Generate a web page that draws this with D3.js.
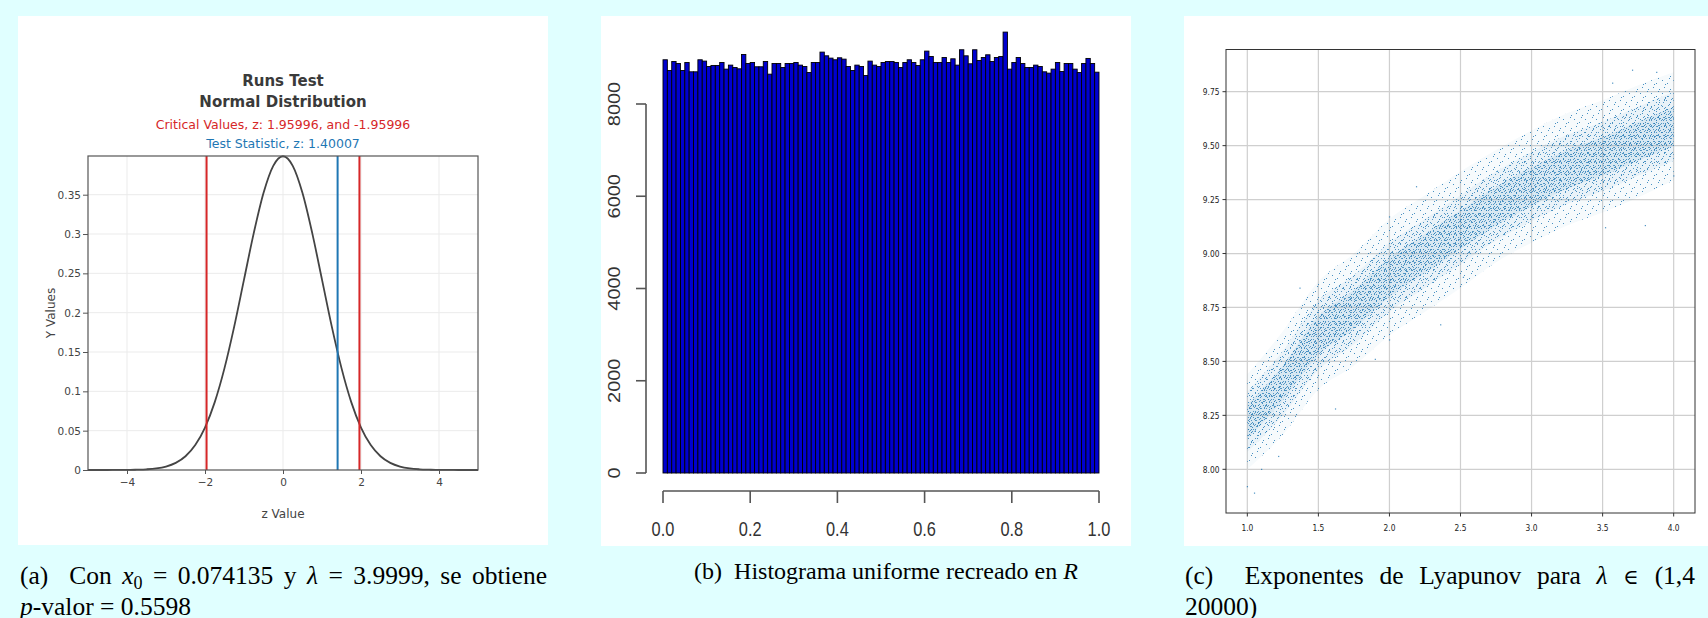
<!DOCTYPE html>
<html><head><meta charset="utf-8">
<script src="https://cdn.jsdelivr.net/npm/d3@7"></script>
<style>
body{margin:0;background:#e0ffff;width:1708px;height:618px;overflow:hidden;position:relative}
.cap{position:absolute;font-family:"Liberation Serif","Times New Roman",serif;font-size:25.5px;line-height:31px;color:#000;white-space:nowrap}
.just{text-align:justify;text-align-last:justify;white-space:normal}
.sub{font-size:18px;position:relative;top:5px;line-height:0}
.elem{font-family:"DejaVu Serif",serif;font-size:21px}
</style></head><body>
<svg id="chart" width="1708" height="618" style="position:absolute;left:0;top:0"></svg>
<div class="cap just" style="left:20px;top:560px;width:527px">(a)&nbsp; Con <i>x</i><span class="sub">0</span> = 0.074135 y <i>λ</i> = 3.9999, se obtiene</div>
<div class="cap" style="left:20px;top:591px"><i>p</i>-valor = 0.5598</div>
<div class="cap" style="left:886px;top:556px;font-size:24px;transform:translateX(-50%)">(b)&nbsp; Histograma uniforme recreado en <i>R</i></div>
<div class="cap just" style="left:1185px;top:560px;width:510px">(c)&nbsp; Exponentes de Lyapunov para <i>λ</i> <span class="elem">∈</span> (1,4</div>
<div class="cap" style="left:1185px;top:591px">20000)</div>
<script>
// ---------- Panel (a) data ----------
const zValues = [-5,-4.75,-4.5,-4.25,-4,-3.75,-3.5,-3.25,-3,-2.75,-2.5,-2.25,-2,-1.75,-1.5,-1.25,-1,-0.75,-0.5,-0.25,0,
  0.25,0.5,0.75,1,1.25,1.5,1.75,2,2.25,2.5,2.75,3,3.25,3.5,3.75,4,4.25,4.5,4.75,5];
const densityValues = [0.0000,0.0000,0.0000,0.0001,0.0001,0.0004,0.0009,0.0020,0.0044,0.0091,0.0175,0.0317,0.0540,0.0863,0.1295,0.1826,0.2420,0.3011,0.3521,0.3867,0.3989,
  0.3867,0.3521,0.3011,0.2420,0.1826,0.1295,0.0863,0.0540,0.0317,0.0175,0.0091,0.0044,0.0020,0.0009,0.0004,0.0001,0.0001,0.0000,0.0000,0.0000];
const criticalValues = [-1.95996, 1.95996];
const testStatistic = 1.40007;
const aXTicks = [-4,-2,0,2,4];
const aXTickLabels = ["\u22124","\u22122","0","2","4"];
const aYTicks = [0,0.05,0.1,0.15,0.2,0.25,0.3,0.35];
const aYTickLabels = ["0","0.05","0.1","0.15","0.2","0.25","0.3","0.35"];

// ---------- Panel (b) data ----------
const histCounts = [8959,8727,8922,8879,8727,8900,8698,8698,8959,8930,
  8814,8836,8836,8900,8756,8843,8792,8763,9074,8879,
  8900,8807,8807,8922,8647,8879,8879,8792,8879,8879,
  8900,8843,8814,8684,8900,8900,9125,9045,8995,8959,
  9002,8973,8814,8727,8843,8814,8618,8930,8843,8814,
  8900,8922,8922,8900,8792,8900,8959,8900,8836,8959,
  9147,9031,8900,8900,9009,8900,8980,8843,9176,9045,
  8872,9176,8944,9009,9067,8922,9009,9031,9559,8756,
  8900,9009,8879,8792,8792,8843,8814,8698,8669,8756,
  8900,8705,8879,8879,8756,8684,8879,8988,8879,8690];
const bXTicks = [0,0.2,0.4,0.6,0.8,1.0];
const bXTickLabels = ["0.0","0.2","0.4","0.6","0.8","1.0"];
const bYTicks = [0,2000,4000,6000,8000];
const bYTickLabels = ["0","2000","4000","6000","8000"];

// ---------- Panel (c) data (band) ----------
const lambdaX   = [1.0,1.25,1.5,1.75,2.0,2.25,2.5,2.75,3.0,3.25,3.5,3.75,4.0];
const lyapCenter= [8.22,8.40,8.62,8.74,8.89,9.00,9.11,9.22,9.31,9.39,9.45,9.52,9.59];
const lyapInner = [0.08,0.08,0.09,0.09,0.09,0.09,0.09,0.09,0.09,0.09,0.09,0.09,0.09];
const lyapMid   = [0.14,0.15,0.16,0.16,0.16,0.16,0.16,0.16,0.16,0.16,0.16,0.16,0.16];
const lyapOuter = [0.22,0.24,0.25,0.26,0.27,0.27,0.27,0.26,0.26,0.26,0.26,0.26,0.25];
const outlierX  = [1.00,1.05,1.10,1.22,1.62,1.90,2.00,2.36,1.37,2.52,2.00,2.19,3.80,3.52,3.71,3.88,4.00,3.57];
const outlierY  = [7.92,7.89,8.00,8.06,8.28,8.51,8.60,8.67,8.84,8.89,9.17,9.31,9.13,9.12,9.85,9.84,9.36,9.79];
const cXTicks = [1.0,1.5,2.0,2.5,3.0,3.5,4.0];
const cXTickLabels = ["1.0","1.5","2.0","2.5","3.0","3.5","4.0"];
const cYTicks = [8.00,8.25,8.50,8.75,9.00,9.25,9.50,9.75];
const cYTickLabels = ["8.00","8.25","8.50","8.75","9.00","9.25","9.50","9.75"];

const svg = d3.select("#chart");
const defs = svg.append("defs");

[[18,16,530,529],[601,16,530,530],[1184,16,524,530]].forEach(([x,y,w,h]) =>
  svg.append("rect").attr("x",x).attr("y",y).attr("width",w).attr("height",h).attr("fill","#fff"));

// ================= Panel (a) =================
(function(){
  const L=88,R=478,T=156,B=470;
  const x = d3.scaleLinear().domain([-5,5]).range([L,R]);
  const y = d3.scaleLinear().domain([0,0.3992]).range([B,T]);
  const g = svg.append("g");
  const font = "'DejaVu Sans', Verdana, sans-serif";
  g.selectAll(".gx").data(aXTicks).join("line").attr("x1",d=>x(d)).attr("x2",d=>x(d)).attr("y1",T).attr("y2",B)
    .attr("stroke","#ebebeb").attr("stroke-width",1);
  g.selectAll(".gy").data(aYTicks.slice(1)).join("line").attr("x1",L).attr("x2",R).attr("y1",d=>y(d)).attr("y2",d=>y(d))
    .attr("stroke","#ebebeb").attr("stroke-width",1);
  const line = d3.line().x((d,i)=>x(zValues[i])).y(d=>y(d)).curve(d3.curveMonotoneX);
  g.append("path").attr("d",line(densityValues)).attr("fill","none").attr("stroke","#444").attr("stroke-width",1.8);
  criticalValues.forEach(v => g.append("line").attr("x1",x(v)).attr("x2",x(v)).attr("y1",T).attr("y2",B)
    .attr("stroke","#d62728").attr("stroke-width",2));
  g.append("line").attr("x1",x(testStatistic)).attr("x2",x(testStatistic)).attr("y1",T).attr("y2",B)
    .attr("stroke","#1f77b4").attr("stroke-width",2);
  g.append("rect").attr("x",L).attr("y",T).attr("width",R-L).attr("height",B-T).attr("fill","none").attr("stroke","#555").attr("stroke-width",1.2);
  const ya = g.append("g").attr("transform",`translate(${L},0)`)
    .call(d3.axisLeft(y).tickValues(aYTicks).tickFormat((d,i)=>aYTickLabels[i]).tickSize(5).tickPadding(2));
  ya.select(".domain").remove();
  ya.selectAll("line").attr("stroke","#555");
  ya.selectAll("text").attr("fill","#444").style("font-family",font).style("font-size","10.5px");
  const xa = g.append("g").attr("transform",`translate(0,${B})`)
    .call(d3.axisBottom(x).tickValues(aXTicks).tickFormat((d,i)=>aXTickLabels[i]).tickSize(4).tickPadding(5));
  xa.select(".domain").remove();
  xa.selectAll("line").attr("stroke","#555");
  xa.selectAll("text").attr("fill","#444").style("font-family",font).style("font-size","10.5px");
  const cx=(L+R)/2;
  g.append("text").attr("x",cx).attr("y",518).attr("text-anchor","middle").attr("fill","#444").style("font-family",font).style("font-size","12px").text("z Value");
  g.append("text").attr("transform",`translate(55,${(T+B)/2}) rotate(-90)`).attr("text-anchor","middle").attr("fill","#444").style("font-family",font).style("font-size","12px").text("Y Values");
  g.append("text").attr("x",cx).attr("y",85.5).attr("text-anchor","middle").attr("fill","#3a3a3a").style("font-family",font).style("font-size","15px").style("font-weight","bold").text("Runs Test");
  g.append("text").attr("x",cx).attr("y",106.5).attr("text-anchor","middle").attr("fill","#3a3a3a").style("font-family",font).style("font-size","15px").style("font-weight","bold").text("Normal Distribution");
  g.append("text").attr("x",cx).attr("y",129).attr("text-anchor","middle").attr("fill","#d62728").style("font-family",font).style("font-size","12.5px").text("Critical Values, z: 1.95996, and -1.95996");
  g.append("text").attr("x",cx).attr("y",147.5).attr("text-anchor","middle").attr("fill","#1f77b4").style("font-family",font).style("font-size","12.5px").text("Test Statistic, z: 1.40007");
})();

// ================= Panel (b) =================
(function(){
  const x = d3.scaleLinear().domain([0,1]).range([663,1099]);
  const y = d3.scaleLinear().domain([0,8000]).range([473,104]);
  const g = svg.append("g");
  const font = "'Liberation Sans', Arial, Helvetica, sans-serif";
  const nb = histCounts.length;
  g.selectAll("rect.bar").data(histCounts).join("rect").attr("class","bar")
    .attr("x",(d,i)=>x(i/nb)).attr("width",(d,i)=>x((i+1)/nb)-x(i/nb))
    .attr("y",d=>y(d)).attr("height",d=>y(0)-y(d))
    .attr("fill","#0000d0").attr("stroke","#000").attr("stroke-width",0.9);
  const ax = 491;
  g.append("line").attr("x1",x(0)).attr("x2",x(1)).attr("y1",ax).attr("y2",ax).attr("stroke","#555").attr("stroke-width",1.6);
  g.selectAll(".xt").data(bXTicks).join("line").attr("x1",d=>x(d)).attr("x2",d=>x(d)).attr("y1",ax).attr("y2",ax+12).attr("stroke","#555").attr("stroke-width",1.6);
  g.selectAll(".xl").data(bXTicks).join("text").attr("transform",d=>`translate(${x(d)},535.5) scale(0.82,1)`)
    .attr("text-anchor","middle").attr("fill","#333").style("font-family",font).style("font-size","20px").text((d,i)=>bXTickLabels[i]);
  const ayx = 646;
  g.append("line").attr("x1",ayx).attr("x2",ayx).attr("y1",y(0)).attr("y2",y(8000)).attr("stroke","#555").attr("stroke-width",1.6);
  g.selectAll(".yt").data(bYTicks).join("line").attr("x1",ayx-10).attr("x2",ayx).attr("y1",d=>y(d)).attr("y2",d=>y(d)).attr("stroke","#555").attr("stroke-width",1.6);
  g.selectAll(".yl").data(bYTicks).join("text").attr("transform",d=>`translate(620,${y(d)}) scale(0.82,1) rotate(-90)`)
    .attr("text-anchor","middle").attr("fill","#333").style("font-family",font).style("font-size","20px").text((d,i)=>bYTickLabels[i]);
})();

// ================= Panel (c) =================
(function(){
  const L=1226,R=1695,T=49.5,B=513;
  const x = d3.scaleLinear().domain([0.85,4.15]).range([L,R]);
  const y = d3.scaleLinear().domain([8.0,9.75]).range([469.3,91.7]);
  const g = svg.append("g");
  const font = "'DejaVu Sans', sans-serif";
  defs.append("clipPath").attr("id","clipc").append("rect").attr("x",L).attr("y",T).attr("width",R-L).attr("height",B-T);
  g.selectAll(".gx").data(cXTicks).join("line").attr("x1",d=>x(d)).attr("x2",d=>x(d)).attr("y1",T).attr("y2",B).attr("stroke","#cfcfcf").attr("stroke-width",1.2);
  g.selectAll(".gy").data(cYTicks).join("line").attr("x1",L).attr("x2",R).attr("y1",d=>y(d)).attr("y2",d=>y(d)).attr("stroke","#cfcfcf").attr("stroke-width",1.2);
  function dotPattern(id,w,h,pts,op){
    const p = defs.append("pattern").attr("id",id).attr("patternUnits","userSpaceOnUse").attr("width",w).attr("height",h);
    pts.forEach(([px,py])=>p.append("rect").attr("x",px).attr("y",py).attr("width",1).attr("height",1).attr("fill","#1f77b4").attr("fill-opacity",op));
  }
  dotPattern("sp1",11,13,[[1,2],[6,5],[9,11],[3,9],[8,0],[4,6]],0.8);
  dotPattern("sp2",7,9,[[0,1],[4,3],[2,6],[6,8],[5,0]],0.75);
  dotPattern("sp3",5,6,[[1,0],[3,3],[0,4],[4,5]],0.7);
  const band = (hw) => d3.area().x((d,i)=>x(lambdaX[i])).y0((d,i)=>y(lyapCenter[i]-hw[i])).y1((d,i)=>y(lyapCenter[i]+hw[i])).curve(d3.curveMonotoneX);
  const cg = g.append("g").attr("clip-path","url(#clipc)");
  [[lyapOuter,"sp1",0.04],[lyapMid,"sp2",0.06],[lyapInner,"sp3",0.08]].forEach(([hw,pid,op])=>{
    const dd = band(hw)(lambdaX);
    cg.append("path").attr("d",dd).attr("fill","#1f77b4").attr("fill-opacity",op);
    cg.append("path").attr("d",dd).attr("fill",`url(#${pid})`);
  });
  cg.selectAll(".out").data(outlierX).join("rect").attr("x",d=>x(d)-0.5).attr("y",(d,i)=>y(outlierY[i])-0.5)
    .attr("width",1.2).attr("height",1.2).attr("fill","#1f77b4").attr("fill-opacity",0.8);
  g.append("rect").attr("x",L).attr("y",T).attr("width",R-L).attr("height",B-T).attr("fill","none").attr("stroke","#333").attr("stroke-width",1);
  g.selectAll(".xt").data(cXTicks).join("line").attr("x1",d=>x(d)).attr("x2",d=>x(d)).attr("y1",B).attr("y2",B+3.5).attr("stroke","#333");
  g.selectAll(".yt").data(cYTicks).join("line").attr("x1",L-3.5).attr("x2",L).attr("y1",d=>y(d)).attr("y2",d=>y(d)).attr("stroke","#333");
  g.selectAll(".xl").data(cXTicks).join("text").attr("transform",d=>`translate(${x(d)},530.5) scale(0.78,1)`)
    .attr("text-anchor","middle").attr("fill","#222").style("font-family",font).style("font-size","9.6px").text((d,i)=>cXTickLabels[i]);
  g.selectAll(".yl").data(cYTicks).join("text").attr("transform",d=>`translate(1219.5,${y(d)+3.5}) scale(0.78,1)`)
    .attr("text-anchor","end").attr("fill","#222").style("font-family",font).style("font-size","9.6px").text((d,i)=>cYTickLabels[i]);
})();
</script>
</body></html>
